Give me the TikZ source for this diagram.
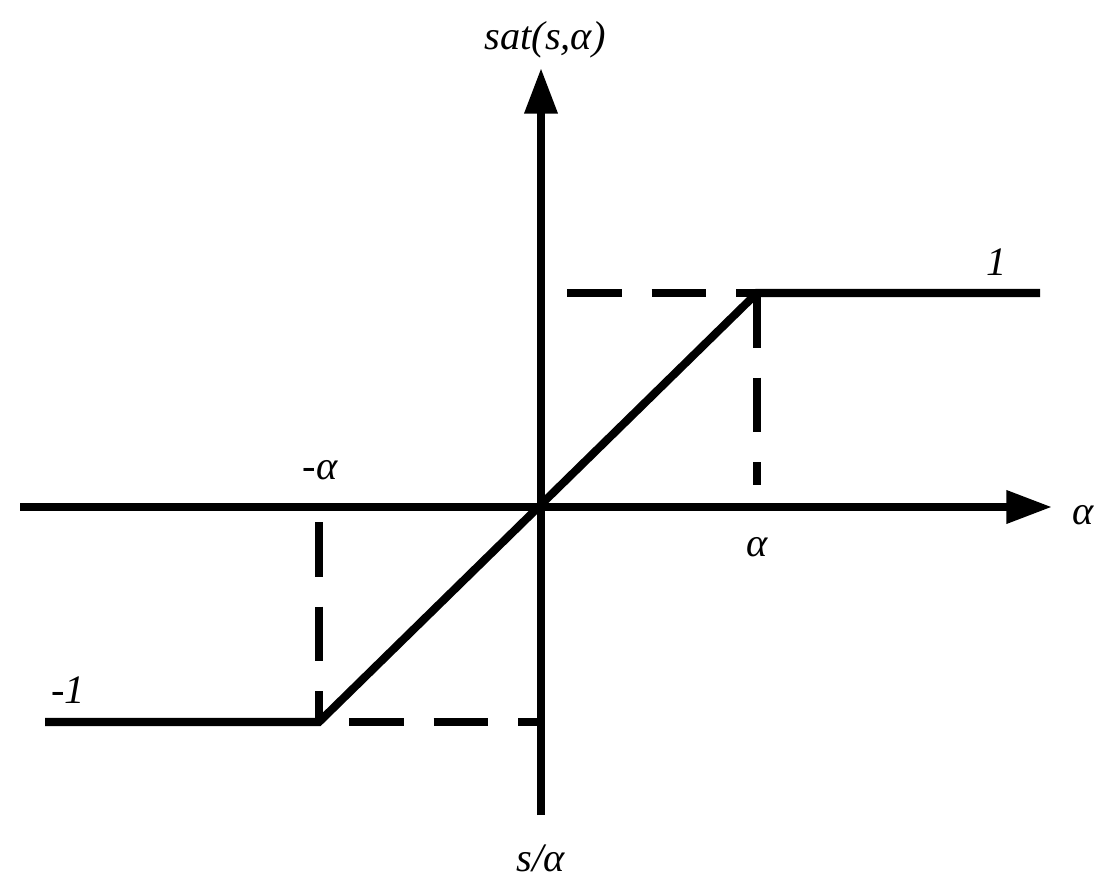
\documentclass[tikz,border=0pt]{standalone}
\usepackage{fontspec}
\setmainfont{Liberation Serif}
\usetikzlibrary{arrows.meta}
\begin{document}
\begin{tikzpicture}[x=0.02cm,y=-0.02cm,
  thick line/.style={line width=8*0.02cm*28.45/1},
  lw/.style={line width=4.6pt},
  dsh/.style={lw,dash pattern=on 55*0.567pt off 30*0.567pt},
  lbl/.style={font=\fontsize{23}{27}\selectfont\itshape,inner sep=0pt}]
\useasboundingbox (0,0) rectangle (1116,895);
\coordinate (O) at (541,507);
\coordinate (xl) at (20,507);
\coordinate (xr) at (1052,507);
\coordinate (yb) at (541,815);
\coordinate (yt) at (541,68);
\coordinate (P) at (757,293);
\coordinate (N) at (319,722);
\coordinate (R) at (1040,293);
\coordinate (L) at (45,722);
\draw[lw,-{Triangle[length=26pt,width=18pt]}] (xl) -- (xr);
\draw[lw,-{Triangle[length=26pt,width=18pt]}] (yb) -- (yt);
\draw[lw] (L) -- (N) -- (P) -- (R);
\coordinate (a1) at (567,293);
\draw[dsh] (a1) -- (P);
\coordinate (a2) at (757,485);
\draw[dsh] (P) -- (a2);
\coordinate (b1) at (319,522);
\draw[dsh] (b1) -- (N);
\coordinate (b2) at (541,722);
\draw[dsh] (N) ++(30,0) -- (b2);
\node[lbl] (t1) at (545,40) {sat(s,α)};
\node[lbl] (t2) at (997,262) {1};
\node[lbl] (t3) at (320,470) {-α};
\node[lbl] (t4) at (1083,515) {α};
\node[lbl] (t5) at (757,547) {α};
\node[lbl] (t6) at (68,690) {-1};
\node[lbl] (t7) at (541,858) {s/α};
\end{tikzpicture}
\end{document}
